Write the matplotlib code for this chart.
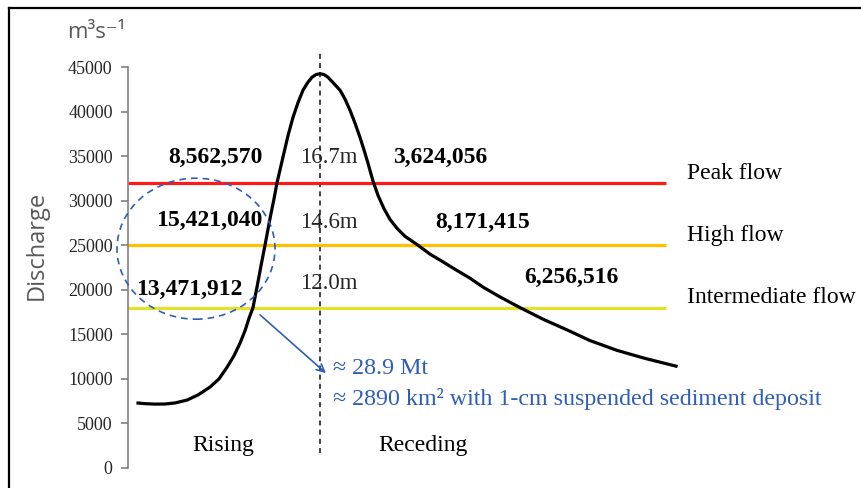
import matplotlib
matplotlib.use('Agg')
import matplotlib.pyplot as plt
from matplotlib.patches import Ellipse
from matplotlib.lines import Line2D

# hydrograph (time in arbitrary units)
rising_t = [10, 17, 27, 37, 47, 59, 70, 82, 91, 99, 106, 112, 117, 121, 125, 129,
            133, 137, 142, 146, 149, 155, 160, 165, 170, 175, 180, 184, 188, 192]
rising_q = [7290, 7220, 7170, 7180, 7300, 7620, 8200, 9080, 10000, 11300, 12600,
            14000, 15400, 16800, 18000, 20300, 22700, 25000, 28000, 30200, 32000,
            34900, 37300, 39350, 41000, 42400, 43300, 43850, 44150, 44250]
receding_t = [196, 200, 205, 212, 217, 222, 227, 232, 236, 240, 245, 250, 256, 262,
              269, 277, 290, 302, 314, 327, 342, 355, 372, 392, 415, 439, 462, 489,
              517, 548]
receding_q = [44150, 43850, 43250, 42400, 41400, 40150, 38700, 37100, 35700, 34200,
              32200, 30600, 29100, 27900, 26900, 26000, 25000, 24000, 23200, 22300,
              21300, 20300, 19200, 18000, 16700, 15500, 14300, 13200, 12300, 11430]

peak_t = 192

thresholds = [32000, 25000, 18000]
threshold_names = ['Peak flow', 'High flow', 'Intermediate flow']
threshold_colors = ['#FF1A1A', '#FFC000', '#E2E22A']

rising_vol = ['8,562,570', '15,421,040', '13,471,912']
stage = ['16.7m', '14.6m', '12.0m']
receding_vol = ['3,624,056', '8,171,415', '6,256,516']

total_mass = '≈ 28.9 Mt'
total_area = '≈ 2890 km² with 1-cm suspended sediment deposit'

serif = 'Liberation Serif'
sans = ['Open Sans', 'DejaVu Sans']
blue = '#2F5DB8'
gray = '#808080'

fig = plt.figure(figsize=(8.61, 4.88), dpi=100)
ax = fig.add_axes([128 / 861, 20 / 488, 733 / 861, 401 / 488])
ax.set_xlim(0, 733)
ax.set_ylim(0, 45000)

for s in ['top', 'right', 'bottom']:
    ax.spines[s].set_visible(False)
ax.spines['left'].set_color(gray)
ax.spines['left'].set_linewidth(1.2)
ax.set_xticks([])
ax.set_yticks(range(0, 45001, 5000))
ax.tick_params(axis='y', length=5, width=1.2, color=gray, pad=6)
for lab in ax.get_yticklabels():
    lab.set_fontfamily(serif)
    lab.set_fontsize(13)
    lab.set_color('#262626')

# threshold lines
ax.hlines(thresholds, 0, 538, colors=threshold_colors, linewidth=2.3, zorder=2)
for q, name in zip(thresholds, threshold_names):
    ax.text(559, q + 1100, name, fontfamily=serif, fontsize=17, va='center', ha='left')

# curve
ax.plot(rising_t + receding_t, rising_q + receding_q, color='black', linewidth=2.3,
        solid_joinstyle='round', zorder=3)

# peak line
ax.plot([peak_t, peak_t], [1700, 46600], color='#222222', linestyle=(0, (3, 2.5)),
        linewidth=1.2, clip_on=False, zorder=1)

# volumes / stages
rise_pos = [(87, 34900), (81, 27830), (61, 20090)]
stage_pos = [(201, 34790), (201, 27600), (201, 20650)]
rec_pos = [(312, 34900), (355, 27600), (443, 21430)]
for (x, y), txt in zip(rise_pos, rising_vol):
    ax.text(x, y, txt, fontfamily=serif, fontsize=17, fontweight='bold', ha='center', va='center', zorder=4)
for (x, y), txt in zip(stage_pos, stage):
    ax.text(x, y, txt, fontfamily=serif, fontsize=16.5, color='#262626', ha='center', va='center', zorder=4)
for (x, y), txt in zip(rec_pos, receding_vol):
    ax.text(x, y, txt, fontfamily=serif, fontsize=17, fontweight='bold', ha='center', va='center', zorder=4)

ax.text(95, 2580, 'Rising', fontfamily=serif, fontsize=17, ha='center', va='center')
ax.text(295, 2580, 'Receding', fontfamily=serif, fontsize=17, ha='center', va='center')

# circled part and arrow
ax.add_patch(Ellipse((68, 24610), 158, 15820, fill=False, edgecolor=blue,
                     linestyle=(0, (4, 3)), linewidth=1.2, clip_on=False, zorder=5))
ax.annotate('', xy=(200, 10440), xytext=(130, 17390),
            arrowprops=dict(arrowstyle='->', color=blue, lw=1.2, mutation_scale=14))
ax.text(205, 11110, total_mass, fontfamily=serif, fontsize=17.3, color=blue, va='center', ha='left')
ax.text(205, 7740, total_area, fontfamily=serif, fontsize=17.3, color=blue, va='center', ha='left')

# axis titles
fig.text(37 / 861, 1 - 245 / 488, 'Discharge', family=sans, fontsize=17, color='#595959',
         rotation=90, ha='center', va='center')
fig.text(67 / 861, 1 - 32 / 488, 'm³s⁻¹', family=sans, fontsize=16, color='#595959',
         ha='left', va='center')

# frame
fig.add_artist(Line2D([9 / 861, 1], [1 - 8 / 488, 1 - 8 / 488], color='black', linewidth=1.6))
fig.add_artist(Line2D([9 / 861, 9 / 861], [0, 1 - 8 / 488], color='black', linewidth=1.6))

fig.savefig('out.png', dpi=100)
